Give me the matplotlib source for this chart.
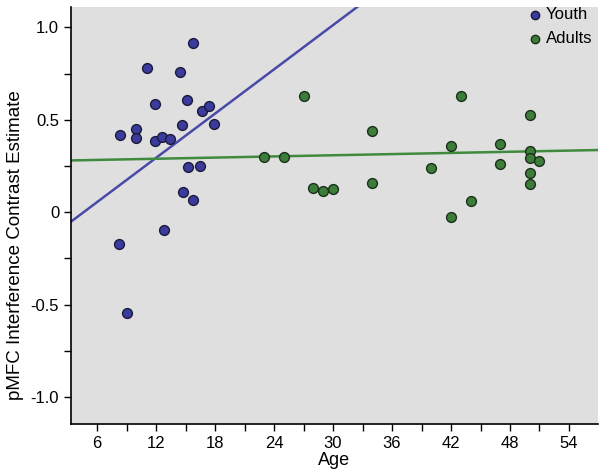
import numpy as np
import matplotlib
matplotlib.use("Agg")
import matplotlib.pyplot as plt
from matplotlib.ticker import MultipleLocator

plt.rcParams['font.family'] = ['Liberation Sans', 'DejaVu Sans']

youth_age = [8.34, 8.27, 9.05, 9.94, 9.94, 11.09, 11.9, 11.9, 12.58, 12.82, 13.43,
             14.44, 14.65, 14.75, 15.13, 15.23, 15.74, 15.74, 16.48, 16.68, 17.36, 17.9]
youth_val = [0.418, -0.170, -0.545, 0.452, 0.400, 0.782, 0.587, 0.387, 0.405, -0.099, 0.395,
             0.757, 0.474, 0.111, 0.607, 0.246, 0.065, 0.914, 0.250, 0.546, 0.576, 0.476]

adult_age = [23, 25, 27, 28, 29, 30, 34, 34, 40, 42, 42, 43, 44, 47, 47, 50, 50, 50, 51, 50, 50]
adult_val = [0.299, 0.297, 0.630, 0.133, 0.114, 0.126, 0.441, 0.157, 0.240, 0.357, -0.025,
             0.630, 0.063, 0.371, 0.263, 0.524, 0.331, 0.292, 0.277, 0.211, 0.151]

# regression lines as shown in the figure (slope, intercept)
youth_fit = [0.0399, -0.185]
adult_fit = [0.00105, 0.2764]

x_ticks = [6, 12, 18, 24, 30, 36, 42, 48, 54]
y_ticks = [-1.0, -0.5, 0.0, 0.5, 1.0]
y_ticklabels = ['-1.0', '-0.5', '0', '0.5', '1.0']

youth_fill, youth_line = '#3b3b9e', '#4a4aa8'
adult_fill, adult_line = '#3d7d3a', '#3f8a3c'

fig = plt.figure(figsize=(6.04, 4.73), dpi=100)
ax = fig.add_axes([71/604, 1-424/473, (598-71)/604, (424-7)/473])
ax.set_facecolor('#dfdfdf')
xlim = (3.35, 56.95)
ax.set_xlim(*xlim)
ax.set_ylim(-1.146, 1.11)

xs = np.array(xlim)
for (m, b), lc in [(youth_fit, youth_line), (adult_fit, adult_line)]:
    ax.plot(xs, m*xs + b, color=lc, lw=1.8, zorder=2)

ax.scatter(youth_age, youth_val, s=50, facecolor=youth_fill, edgecolor='#1a1a3a', lw=1.0, zorder=3, label='Youth')
ax.scatter(adult_age, adult_val, s=50, facecolor=adult_fill, edgecolor='#1a301a', lw=1.0, zorder=3, label='Adults')

for s in ['top', 'right']:
    ax.spines[s].set_visible(False)
for s in ['left', 'bottom']:
    ax.spines[s].set_linewidth(1.2)

ax.set_xticks(x_ticks)
ax.xaxis.set_minor_locator(MultipleLocator(3))
ax.set_yticks(y_ticks)
ax.set_yticklabels(y_ticklabels)
ax.yaxis.set_minor_locator(MultipleLocator(0.25))
ax.tick_params(which='both', direction='out', labelsize=12, length=5, width=1.0)
ax.tick_params(which='minor', length=5)

ax.set_xlabel('Age', fontsize=13, labelpad=1)
ax.set_ylabel('pMFC Interference Contrast Estimate', fontsize=13.5)
ax.yaxis.set_label_coords(-0.089, 0.43)

leg = ax.legend(loc='upper right', bbox_to_anchor=(1 - 6/527, 1.0), frameon=False, fontsize=12,
                handletextpad=0.15, markerscale=0.85, borderaxespad=0.0, borderpad=0.0,
                labelspacing=0.55, handlelength=1.0)

fig.savefig('out.png', dpi=100)
